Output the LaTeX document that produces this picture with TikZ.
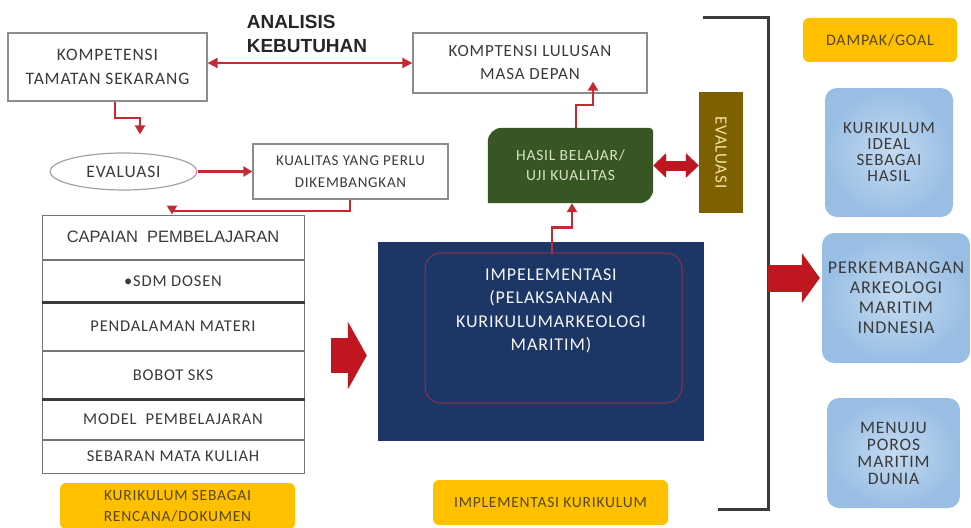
\documentclass[tikz,border=0pt]{standalone}
\usepackage{fontspec}
\setmainfont{Carlito}[LetterSpace=5]
\newfontfamily\arialfont{Liberation Sans}
\usetikzlibrary{arrows.meta,positioning,calc,shapes.geometric,backgrounds}
\definecolor{arrowred}{HTML}{C0161F}
\definecolor{thinred}{HTML}{C42A32}
\definecolor{navy}{HTML}{1C3766}
\definecolor{framered}{HTML}{8E2F4C}
\definecolor{leaf}{HTML}{375623}
\definecolor{leaftext}{HTML}{D6E4C4}
\definecolor{olive}{HTML}{7F6000}
\definecolor{olivetext}{HTML}{F2E2A0}
\definecolor{gold}{HTML}{FFC000}
\definecolor{goldtext}{HTML}{5A4710}
\definecolor{skyin}{HTML}{C4DAF1}
\definecolor{skyout}{HTML}{98BEE4}
\definecolor{ink}{HTML}{3A3A3A}
\definecolor{edge}{HTML}{8C8C8C}
\newcommand{\fsz}[2]{\fontsize{#1}{#2}\selectfont}

\begin{document}
\begin{tikzpicture}[
  x=1pt,y=-1pt,
  every node/.style={align=center,text=ink,inner sep=0pt},
  plainbox/.style={draw=edge,line width=1.3pt,fill=white},
  rowbox/.style={draw=ink!70,line width=1pt,fill=white,minimum width=262pt,font=\fsz{16.5}{20}},
  goldbox/.style={fill=gold,rounded corners=6pt,text=goldtext},
  skybox/.style={inner color=skyin,outer color=skyout,rounded corners=12pt,text=ink},
  link/.style={draw=thinred,line width=2.2pt,-{Triangle[length=9pt,width=10pt]}},
  bigarrow/.style={draw=arrowred,line width=#1}
]
  \useasboundingbox (0,0) rectangle (971,527);

  % Needs analysis: present competence against future competence.
  \node[plainbox,minimum width=199pt,minimum height=68pt,font=\fsz{17.5}{24}] (komp) at (107.5,67) {KOMPETENSI\\TAMATAN SEKARANG};
  \node[plainbox,minimum width=234pt,minimum height=60pt,font=\fsz{17}{23}] (lulusan) at (530,63) {KOMPTENSI LULUSAN\\MASA DEPAN};
  \node[font=\arialfont\bfseries\fsz{19}{24},align=left,text=black!85] (analisis) at (307,34) {ANALISIS\\KEBUTUHAN};
  \draw[draw=thinred,line width=2pt,{Triangle[length=10pt,width=10pt]}-{Triangle[length=10pt,width=10pt]}] (komp.east |- lulusan.west) -- (lulusan.west);

  \node[draw=edge!80,line width=1.2pt,fill=white,ellipse,minimum width=147pt,minimum height=37pt,font=\fsz{17.5}{20}] (evalo) at (123.5,171.5) {EVALUASI};
  \node[plainbox,minimum width=195pt,minimum height=55pt,font=\fsz{15}{22}] (kualitas) at (350.5,171.5) {KUALITAS YANG PERLU\\DIKEMBANGKAN};
  \draw[link] ([xshift=7.5pt]komp.south) -- ++(0,16) -| ([xshift=16.5pt,yshift=18pt]evalo.north);
  \draw[link] (evalo.east) -- (kualitas.west);

  % Curriculum as a plan: stacked rows.
  \node[rowbox,minimum height=44pt,font=\arialfont\fsz{16.5}{20}] (capaian) at (173,237) {CAPAIAN\ \ PEMBELAJARAN};
  \node[rowbox,minimum height=42pt,below=0pt of capaian] (sdm) {•SDM DOSEN};
  \node[rowbox,minimum height=47pt,below=0pt of sdm] (materi) {PENDALAMAN MATERI};
  \node[rowbox,minimum height=48pt,below=0pt of materi] (bobot) {BOBOT SKS};
  \node[rowbox,minimum height=39pt,below=0pt of bobot] (model) {MODEL\ \ PEMBELAJARAN};
  \node[rowbox,minimum height=33pt,below=0pt of model] (sebaran) {SEBARAN MATA KULIAH};
  \draw[ink,line width=2.2pt] (sdm.south west) -- (sdm.south east);
  \draw[ink,line width=2.2pt] (bobot.south west) -- (bobot.south east);
  \draw[link] ([xshift=-0.5pt]kualitas.south) -- ++(0,11) -| ([xshift=-1pt]capaian.north);
  \node[goldbox,minimum width=235pt,minimum height=46pt,font=\fsz{15.5}{21}] (rencana) at (177.5,506) {KURIKULUM SEBAGAI\\RENCANA/DOKUMEN};

  % Implementation block and its result.
  \node[fill=navy,minimum width=326pt,minimum height=199pt] (impl) at (541,341.5) {};
  \node[draw=framered,line width=1pt,rounded corners=16pt,minimum width=257pt,minimum height=150pt] (frame) at (553.5,328) {};
  \node[text=white!92!gray,font=\fsz{18}{23.5}] (impltext) at (551,311) {IMPELEMENTASI\\(PELAKSANAAN\\KURIKULUMARKEOLOGI\\MARITIM)};
  \node[goldbox,minimum width=235pt,minimum height=45pt,font=\fsz{15.5}{20}] (implkur) at (550.5,502.5) {IMPLEMENTASI KURIKULUM};
  \coordinate (midin) at ([yshift=-14pt]impl.west);
  \draw[bigarrow=35pt,-{Triangle[length=19pt,width=67pt]},shorten <=26pt,shorten >=11pt] (midin -| capaian.east) -- (midin);

  \node[minimum width=165pt,minimum height=75pt,text=leaftext,font=\fsz{15.5}{20}] (hasil) at (570.5,165.5) {HASIL BELAJAR/\\UJI KUALITAS};
  \begin{scope}[on background layer]
    \fill[leaf] (hasil.south west) [rounded corners=14pt] -- (hasil.north west) [rounded corners=4pt] -- (hasil.north east) [rounded corners=14pt] -- (hasil.south east) [sharp corners] -- cycle;
  \end{scope}
  \node[fill=olive,rotate=-90,minimum width=121pt,minimum height=44pt,text=olivetext,font=\fsz{17}{20}] (evalv) at (721,152.5) {EVALUASI};
  \draw[link] ([xshift=-1.5pt]frame.north) -- ++(0,-25) -| ([xshift=1.5pt]hasil.south);
  \draw[link] ([xshift=5.5pt]hasil.north) -- ++(0,-23) -| ([xshift=63pt,yshift=12pt]lulusan.south);
  \draw[bigarrow=10pt,{Triangle[length=13pt,width=24pt]}-{Triangle[length=13pt,width=24pt]}] (hasil.east) -- (hasil.east -| evalv.south);

  % Bracket gathering everything into the goals.
  \coordinate (brtl) at (703,18);
  \coordinate (brtr) at (768,18);
  \coordinate (brbr) at (768,509);
  \coordinate (brbl) at (718,509);
  \draw[ink,line width=3pt] (brtl) -- (brtr) -- (brbr) -- (brbl);

  \node[goldbox,minimum width=154pt,minimum height=44pt,font=\fsz{16}{20}] (dampak) at (880,40) {DAMPAK/GOAL};
  \node[skybox,minimum width=128pt,minimum height=129pt,font=\fsz{17}{16}] (ideal) at (889,152.5) {KURIKULUM\\IDEAL\\SEBAGAI\\HASIL};
  \node[skybox,minimum width=148pt,minimum height=130pt,font=\fsz{18}{20}] (perk) at (896,298) {PERKEMBANGAN\\ARKEOLOGI\\MARITIM\\INDNESIA};
  \node[skybox,minimum width=133pt,minimum height=110pt,font=\fsz{17.5}{17}] (menuju) at (893.5,453) {MENUJU\\POROS\\MARITIM\\DUNIA};
  \coordinate (brmid) at (768,278);
  \draw[bigarrow=27pt,-{Triangle[length=18pt,width=49pt]},shorten >=2pt] (brmid) -- (brmid -| perk.west);
\end{tikzpicture}
\end{document}
